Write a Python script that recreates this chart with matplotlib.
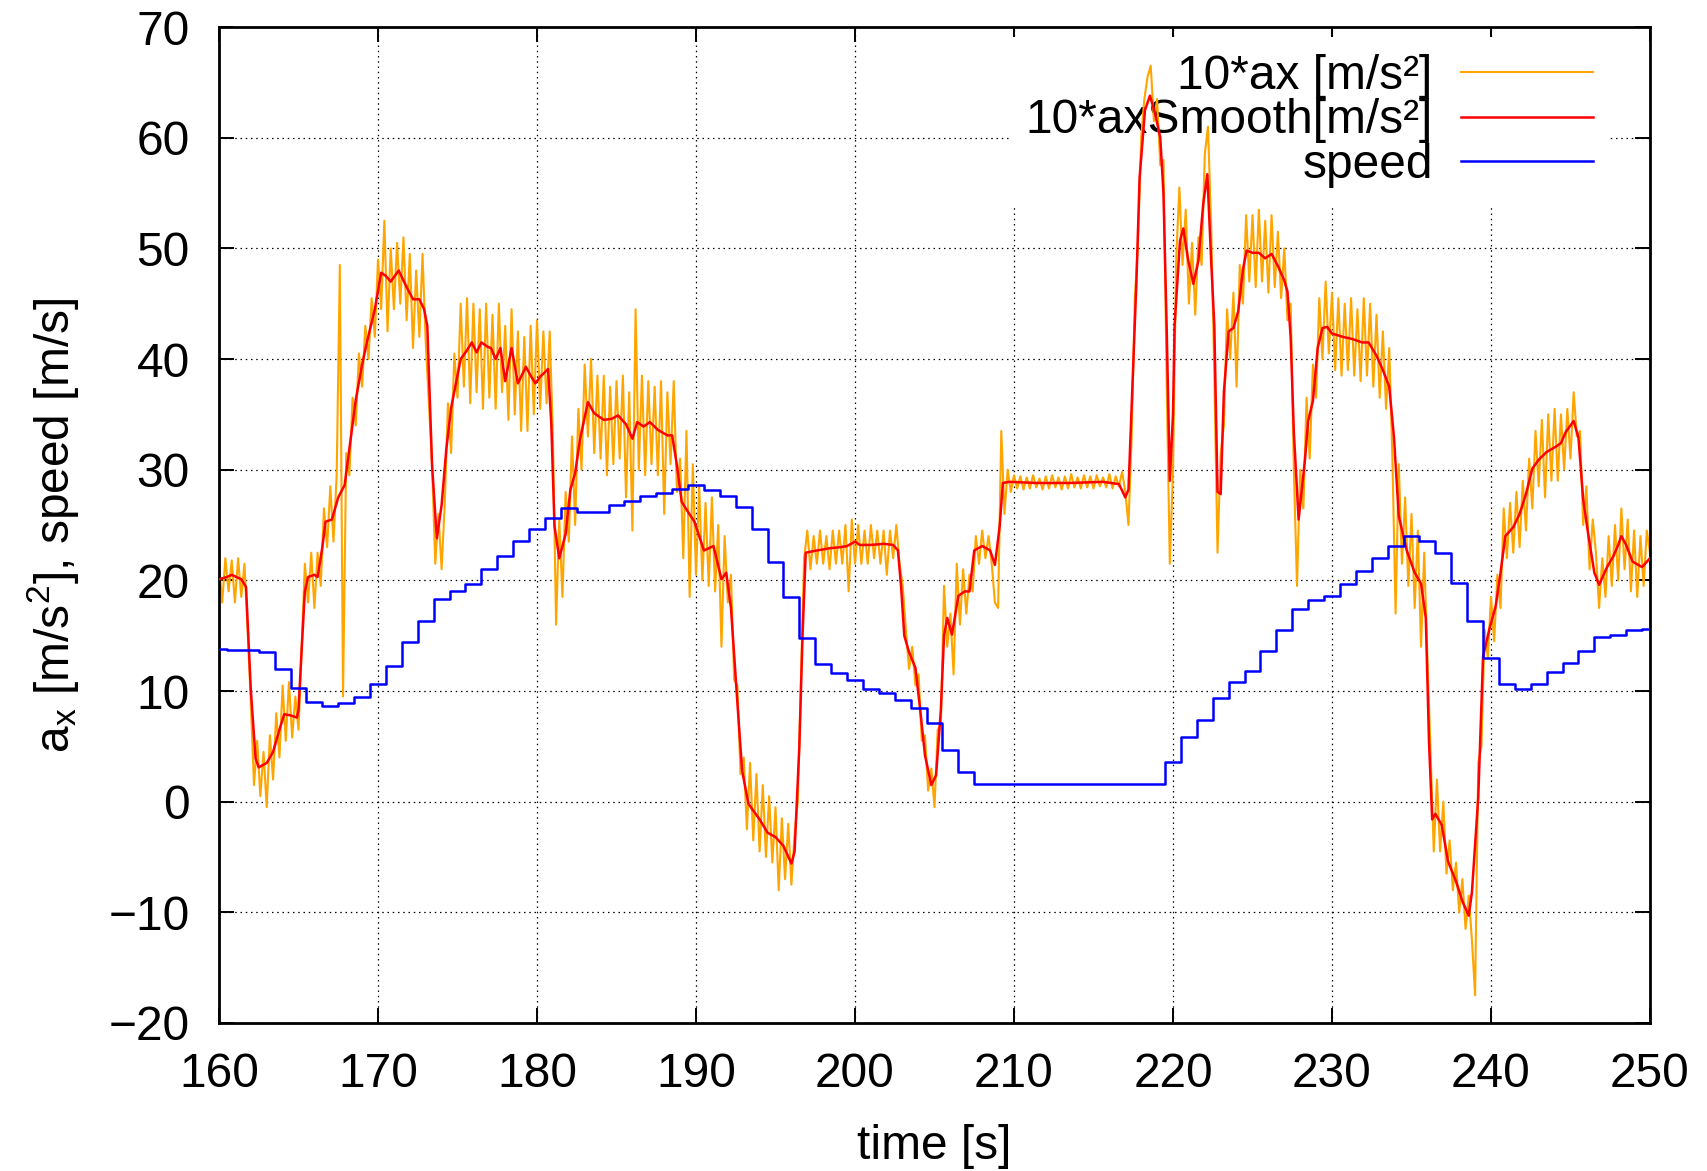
import numpy as np
import matplotlib
matplotlib.use("Agg")
import matplotlib.pyplot as plt

plt.rcParams['font.family'] = ['Liberation Sans', 'DejaVu Sans']
plt.rcParams['mathtext.fontset'] = 'custom'
plt.rcParams['mathtext.rm'] = 'Liberation Sans'
plt.rcParams['mathtext.it'] = 'Liberation Sans'
plt.rcParams['mathtext.bf'] = 'Liberation Sans'

# ---- raw 10*ax signal, samples every 0.2 s from 160 s to 250 s ----
ax_raw = [
    21.5, 18.0, 22.0, 19.0, 21.8,   # 160
    18.0, 22.0, 18.5, 21.5, 15.5,   # 161
    9.0, 1.5, 5.5, 0.5, 4.5,        # 162
    -0.5, 6.0, 2.0, 8.0, 4.0,       # 163
    10.5, 5.5, 10.8, 5.8, 9.5,      # 164
    6.5, 14.0, 21.5, 18.0, 22.5,    # 165
    17.5, 22.5, 19.5, 26.5, 23.0,   # 166
    28.5, 23.5, 29.5, 48.5, 9.5,    # 167
    31.5, 29.5, 36.5, 34.0, 40.5,   # 168
    37.5, 43.0, 40.0, 45.5, 42.0,   # 169
    49.0, 44.5, 52.5, 42.5, 50.0,   # 170
    44.5, 50.5, 45.0, 51.0, 43.5,   # 171
    49.5, 41.0, 48.0, 42.0, 49.5,   # 172
    41.5, 36.0, 30.5, 21.5, 26.0,   # 173
    21.0, 27.0, 36.0, 31.5, 40.5,   # 174
    36.5, 45.0, 37.5, 45.5, 36.0,   # 175
    45.0, 37.0, 44.5, 35.5, 45.0,   # 176
    36.5, 44.0, 35.5, 45.0, 37.0,   # 177
    43.0, 34.5, 44.5, 35.0, 42.5,   # 178
    33.5, 42.0, 33.5, 43.0, 35.0,   # 179
    43.5, 35.5, 42.5, 36.0, 42.5,   # 180
    33.0, 16.0, 25.5, 18.5, 28.0,   # 181
    23.5, 33.0, 25.0, 35.5, 30.0,   # 182
    39.5, 33.0, 40.0, 31.5, 38.5,   # 183
    31.0, 38.5, 29.5, 37.5, 30.5,   # 184
    38.0, 31.0, 38.5, 27.5, 37.0,   # 185
    24.5, 44.5, 30.0, 38.5, 29.5,   # 186
    38.0, 30.5, 37.5, 29.5, 38.0,   # 187
    26.0, 37.0, 30.5, 38.0, 28.0,   # 188
    31.0, 22.0, 33.5, 18.5, 30.5,   # 189
    20.5, 28.5, 20.0, 27.0, 19.5,   # 190
    27.5, 19.0, 25.0, 14.0, 24.0,   # 191
    18.0, 20.5, 11.0, 10.5, 2.5,    # 192
    4.0, -2.5, 3.5, -3.5, 2.5,      # 193
    -4.5, 1.5, -5.0, 0.5, -5.5,     # 194
    -0.5, -8.0, -1.5, -7.0, -2.0,   # 195
    -7.5, -3.0, 0.0, 11.0, 22.0,    # 196
    24.5, 21.0, 24.0, 21.5, 24.5,   # 197
    21.5, 24.0, 21.0, 24.5, 21.5,   # 198
    24.5, 21.5, 25.0, 19.0, 25.5,   # 199
    21.5, 25.0, 21.5, 24.5, 21.5,   # 200
    25.0, 22.0, 24.5, 21.5, 24.5,   # 201
    20.5, 24.5, 22.0, 25.0, 21.5,   # 202
    19.5, 15.5, 12.0, 14.0, 10.5,   # 203
    11.5, 5.5, 6.0, 1.0, 3.0,       # 204
    -0.5, 6.5, 7.0, 19.5, 14.0,     # 205
    17.0, 11.5, 21.5, 16.0, 21.0,   # 206
    17.0, 20.5, 19.0, 24.0, 21.5,   # 207
    24.5, 22.0, 24.0, 21.5, 18.0,   # 208
    17.5, 33.5, 26.0, 30.0, 28.0,   # 209
    29.5, 28.3, 29.4, 28.2, 29.3,   # 210
    28.3, 29.5, 28.4, 29.2, 28.2,   # 211
    29.4, 28.3, 29.5, 28.4, 29.3,   # 212
    28.2, 29.4, 28.3, 29.6, 28.4,   # 213
    29.3, 28.3, 29.5, 28.4, 29.4,   # 214
    28.3, 29.5, 28.5, 29.3, 28.4,   # 215
    29.6, 28.3, 29.4, 28.5, 29.8,   # 216
    28.0, 25.0, 33.0, 45.5, 50.5,   # 217
    60.0, 63.5, 65.5, 66.5, 61.5,   # 218
    63.5, 57.5, 58.0, 38.0, 21.5,   # 219
    30.0, 49.0, 55.5, 48.5, 53.5,   # 220
    45.0, 50.5, 44.0, 51.0, 48.5,   # 221
    58.5, 61.0, 52.0, 38.5, 22.5,   # 222
    31.5, 34.0, 44.5, 40.0, 46.0,   # 223
    37.5, 48.5, 45.0, 53.0, 47.0,   # 224
    53.0, 46.5, 53.5, 47.0, 52.5,   # 225
    46.0, 53.0, 46.5, 51.5, 45.5,   # 226
    50.0, 43.5, 45.0, 30.0, 19.5,   # 227
    30.0, 26.5, 36.5, 31.0, 39.5,   # 228
    36.5, 45.5, 40.0, 47.0, 40.5,   # 229
    46.0, 39.0, 45.5, 38.5, 45.0,   # 230
    39.0, 45.5, 38.5, 44.5, 38.0,   # 231
    45.5, 38.5, 45.0, 37.5, 44.0,   # 232
    36.5, 42.5, 35.5, 41.0, 31.0,   # 233
    17.0, 30.5, 21.5, 27.5, 19.5,   # 234
    26.0, 17.5, 24.5, 14.0, 22.5,   # 235
    13.0, 4.5, -4.5, 2.0, -4.5,     # 236
    0.0, -6.5, -3.5, -8.0, -5.5,    # 237
    -10.0, -7.0, -11.5, -8.5, -12.5,  # 238
    -17.5, 3.5, 5.0, 15.5, 13.0,    # 239
    18.5, 14.5, 20.5, 17.5, 26.5,   # 240
    22.0, 27.0, 22.5, 28.0, 23.0,   # 241
    29.0, 24.5, 31.0, 26.5, 33.5,   # 242
    28.5, 34.5, 27.5, 35.0, 29.0,   # 243
    35.5, 29.0, 35.0, 30.0, 35.5,   # 244
    31.0, 37.0, 33.0, 33.5, 25.0,   # 245
    28.5, 21.0, 25.5, 22.5, 17.5,   # 246
    22.0, 18.5, 24.0, 19.5, 25.0,   # 247
    20.0, 26.5, 21.0, 25.5, 19.0,   # 248
    24.5, 18.5, 24.0, 19.5, 24.5,   # 249
    22.5,                           # 250
]
ax_t = np.linspace(160.0, 250.0, len(ax_raw))

# ---- smoothed 10*ax ----
smooth_t = [160.0, 160.5, 160.8, 161.4, 161.7, 162.0, 162.3, 162.5, 163.0, 163.4,
            163.8, 164.1, 164.5, 164.9, 165.0, 165.2, 165.4, 165.6, 166.0, 166.2,
            166.5, 166.7, 167.1, 167.5, 167.9, 168.3, 168.6, 169.0, 169.3, 169.8,
            170.2, 170.5, 170.8, 171.3, 171.8, 172.2, 172.6, 172.9, 173.1, 173.4,
            173.7, 174.0, 174.3, 174.6, 175.2, 175.6, 175.9, 176.2, 176.5, 176.9,
            177.1, 177.4, 177.7, 178.0, 178.4, 178.8, 179.3, 179.6, 179.9, 180.2,
            180.7, 180.9, 181.1, 181.4, 181.8, 182.1, 182.4, 182.7, 183.2, 183.6,
            184.2, 184.7, 185.1, 185.6, 186.0, 186.3, 186.7, 187.1, 187.6, 188.2,
            188.5, 188.8, 189.1, 189.4, 189.9, 190.5, 191.1, 191.6, 191.9, 192.2,
            192.6, 192.9, 193.3, 194.0, 194.5, 195.0, 195.5, 196.0, 196.2, 196.5,
            196.7, 196.9, 197.6, 198.4, 199.1, 199.5, 200.0, 200.3, 201.0, 201.8,
            202.4, 202.7, 202.9, 203.1, 203.4, 203.8, 204.1, 204.4, 204.8, 205.1,
            205.4, 205.6, 205.8, 206.1, 206.5, 206.9, 207.2, 207.5, 208.0, 208.5,
            208.8, 209.1, 209.3, 209.7, 211.4, 213.5, 215.6, 216.6, 217.0, 217.2,
            217.5, 217.7, 217.9, 218.24, 218.55, 218.87, 219.2, 219.4, 219.6, 219.8,
            220.0, 220.1, 220.44, 220.65, 220.96, 221.28, 221.6, 221.9, 222.16, 222.4,
            222.6, 222.8, 223.0, 223.2, 223.5, 223.8, 224.1, 224.4, 224.63, 225.0,
            225.4, 225.8, 226.2, 226.6, 227.0, 227.2, 227.4, 227.6, 227.9, 228.3,
            228.5, 228.8, 229.1, 229.4, 229.7, 230.0, 230.7, 231.3, 231.9, 232.3,
            232.8, 233.2, 233.6, 233.9, 234.2, 234.7, 235.2, 235.6, 235.9, 236.1,
            236.3, 236.5, 236.9, 237.3, 237.8, 238.2, 238.6, 238.8, 239.2, 239.5,
            239.9, 240.3, 240.6, 240.9, 241.4, 241.8, 242.2, 242.6, 243.0, 243.5,
            244.1, 244.4, 244.7, 245.2, 245.5, 245.8, 246.1, 246.5, 246.8, 247.3,
            247.7, 248.0, 248.2, 248.5, 248.9, 249.5, 250.0]
smooth_v = [20.1, 20.3, 20.5, 20.1, 19.4, 10.1, 3.9, 3.1, 3.5, 4.5,
            6.5, 7.9, 7.8, 7.6, 8.3, 13.8, 19.0, 20.3, 20.5, 20.3,
            23.0, 25.3, 25.5, 27.5, 28.6, 33.0, 36.3, 39.5, 41.5, 44.5,
            47.8, 47.5, 47.0, 48.0, 46.5, 45.4, 45.4, 44.5, 43.0, 30.4,
            23.8, 26.8, 31.9, 35.6, 40.0, 40.8, 41.5, 40.6, 41.5, 41.1,
            41.0, 40.0, 41.0, 38.0, 41.0, 37.8, 39.3, 38.5, 37.8, 38.4,
            39.1, 34.1, 24.9, 22.0, 24.2, 28.2, 29.7, 32.7, 36.1, 35.1,
            34.5, 34.6, 34.9, 34.1, 32.8, 34.3, 33.9, 34.3, 33.6, 33.1,
            33.1, 30.4, 27.1, 26.4, 25.3, 22.7, 23.1, 20.1, 20.7, 17.5,
            9.0, 2.8, -0.2, -1.6, -2.8, -3.2, -4.0, -5.6, -4.5, 5.0,
            15.0, 22.5, 22.7, 22.9, 23.0, 23.1, 23.5, 23.2, 23.2, 23.3,
            23.2, 22.7, 19.4, 15.0, 13.5, 12.1, 8.3, 4.2, 1.5, 2.4,
            8.3, 15.0, 16.6, 15.1, 18.6, 19.0, 19.0, 22.7, 23.1, 22.7,
            21.4, 24.9, 28.8, 28.9, 28.8, 28.8, 28.9, 28.7, 27.5, 28.2,
            39.6, 47.0, 56.4, 62.5, 63.8, 62.2, 60.0, 55.0, 43.0, 29.0,
            35.0, 43.0, 50.7, 51.8, 48.9, 46.8, 48.9, 54.0, 56.7, 48.9,
            43.0, 28.0, 27.8, 37.0, 42.5, 42.8, 44.3, 48.1, 49.8, 49.6,
            49.6, 49.1, 49.5, 48.4, 47.1, 46.1, 42.0, 33.4, 25.5, 30.9,
            34.4, 36.2, 41.0, 42.8, 42.9, 42.3, 42.0, 41.8, 41.5, 41.5,
            40.3, 39.0, 37.5, 32.9, 25.8, 22.7, 20.7, 19.7, 16.6, 5.5,
            -1.6, -1.1, -2.1, -5.4, -7.2, -9.0, -10.3, -8.2, 0.4, 13.1,
            15.6, 17.7, 20.7, 24.0, 24.8, 26.0, 27.8, 30.1, 30.9, 31.6,
            32.1, 32.4, 33.4, 34.4, 32.9, 27.3, 24.3, 20.7, 19.6, 21.2,
            22.2, 23.2, 24.0, 23.2, 21.7, 21.2, 22.0]

# ---- speed, one value per second ----
speed_t = list(range(160, 251))
speed_v = [13.8, 13.75, 13.7, 13.5, 12.0, 10.3, 9.0, 8.6, 8.9, 9.5,      # 160-169
           10.6, 12.3, 14.4, 16.3, 18.3, 19.0, 19.7, 21.0, 22.2, 23.6,   # 170-179
           24.6, 25.6, 26.5, 26.2, 26.2, 26.8, 27.2, 27.6, 27.9, 28.3,   # 180-189
           28.6, 28.2, 27.6, 26.6, 24.6, 21.7, 18.5, 14.8, 12.4, 11.6,   # 190-199
           11.0, 10.2, 9.8, 9.2, 8.5, 7.1, 4.7, 2.7, 1.6, 1.6,           # 200-209
           1.6, 1.6, 1.6, 1.6, 1.6, 1.6, 1.6, 1.6, 1.6, 1.6,             # 210-219
           3.6, 5.8, 7.4, 9.4, 10.8, 11.8, 13.6, 15.5, 17.4, 18.2,       # 220-229
           18.6, 19.7, 20.8, 22.0, 23.1, 24.0, 23.6, 22.5, 19.8, 16.3,   # 230-239
           13.0, 10.6, 10.2, 10.6, 11.7, 12.5, 13.6, 14.9, 15.1, 15.5,   # 240-249
           15.6]                                                         # 250

x_ticks = [160, 170, 180, 190, 200, 210, 220, 230, 240, 250]
y_ticks = [-20, -10, 0, 10, 20, 30, 40, 50, 60, 70]
labels = ['10*ax [m/s\u00b2]', '10*axSmooth[m/s\u00b2]', 'speed']

FS = 34.5

fig = plt.figure(figsize=(17.07, 11.71), dpi=100)
ax = fig.add_axes([0.1283, 0.1264, 0.9666 - 0.1283, 0.9769 - 0.1264])

ax.plot(ax_t, ax_raw, color='#ffa500', lw=1.5, label=labels[0], zorder=2)
ax.plot(smooth_t, smooth_v, color='#ff0000', lw=1.8, label=labels[1], zorder=3)
ax.plot(speed_t, speed_v, color='#0000ff', lw=1.8, drawstyle='steps-mid',
        label=labels[2], zorder=3)

ax.set_xlim(160, 250)
ax.set_ylim(-20, 70)
ax.set_xticks(x_ticks)
ax.set_yticks(y_ticks)
ax.tick_params(direction='in', top=True, right=True, length=11, width=1.4,
               labelsize=FS)
ax.tick_params(axis='x', pad=21)
ax.tick_params(axis='y', pad=21)
for s in ax.spines.values():
    s.set_linewidth(2.0)
ax.set_axisbelow(True)
ax.grid(True, color='black', linestyle=(0, (1.2, 3.0)), linewidth=0.9)

ax.set_xlabel('time [s]', fontsize=FS, labelpad=19)
ax.set_ylabel(r'a$_{\mathrm{x}}$ [m/s$^{2}$], speed [m/s]', fontsize=FS, labelpad=20)

leg = ax.legend(loc='upper right', bbox_to_anchor=(0.972, 0.990),
                markerfirst=False, frameon=True, fancybox=False,
                facecolor='white', edgecolor='none', framealpha=1.0,
                fontsize=FS, handlelength=2.75, handletextpad=0.6,
                labelspacing=-0.01, borderpad=0.35, borderaxespad=0.0)
leg.set_zorder(1)

fig.savefig('out.png', dpi=100)
